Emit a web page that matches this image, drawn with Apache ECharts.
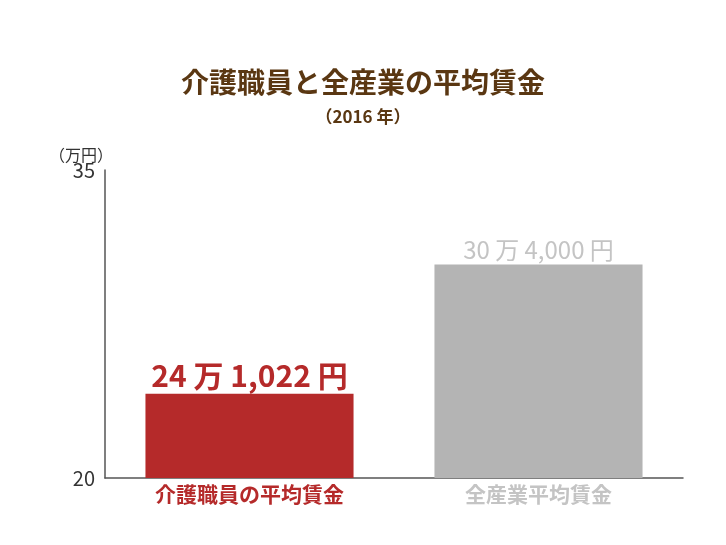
<!DOCTYPE html>
<html><head><meta charset="utf-8">
<script src="https://cdn.jsdelivr.net/npm/echarts@6/dist/echarts.min.js"></script>
<style>html,body{margin:0;padding:0;background:#fff}#c{width:726px;height:545px}</style>
</head><body><div id="c"></div>
<script>
const categories = ['介護職員の平均賃金', '全産業平均賃金'];
const values = [24.1022, 30.4];
const valueLabels = ['24 万 1,022 円', '30 万 4,000 円'];
const yTicks = [20, 35];
const colors = ['#b52a2a', '#b4b4b4'];
const labelColors = ['#b52a2a', '#c4c4c4'];
const font = '"Noto Sans CJK JP", sans-serif';
const chart = echarts.init(document.getElementById('c'));
chart.setOption({
  animation: false,
  title: [
    {text: '介護職員と全産業の平均賃金', left: 'center', top: 63, textStyle: {fontFamily: font, fontSize: 28, fontWeight: 'bold', color: '#5a3712'}},
    {text: '（2016 年）', left: 'center', top: 103, textStyle: {fontFamily: font, fontSize: 17, fontWeight: 'bold', color: '#5a3712'}},
    {text: '（万円）', left: 44, top: 142, textStyle: {fontFamily: font, fontSize: 16, fontWeight: 'normal', color: '#333'}}
  ],
  grid: {left: 105, right: 43, top: 170, bottom: 67},
  xAxis: {type: 'category', data: categories, axisTick: {show: false},
    axisLine: {lineStyle: {color: '#555', width: 1.5}},
    axisLabel: {fontFamily: font, fontSize: 21, fontWeight: 'bold', margin: 6,
      color: (v, i) => labelColors[categories.indexOf(v)]}},
  yAxis: {type: 'value', min: yTicks[0], max: yTicks[1], interval: 15, splitLine: {show: false},
    axisLine: {show: true, lineStyle: {color: '#555', width: 1.5}}, axisTick: {show: false},
    axisLabel: {fontFamily: font, fontSize: 20, color: '#333', margin: 10}},
  series: [{type: 'bar', barWidth: '72%',
    data: values.map((v, i) => ({value: v, itemStyle: {color: colors[i]},
      label: {show: true, position: 'top', distance: 3, formatter: valueLabels[i], fontFamily: font,
        fontSize: i === 0 ? 30 : 24, fontWeight: i === 0 ? 'bold' : 'normal', color: labelColors[i]}}))
  }]
});
</script></body></html>
